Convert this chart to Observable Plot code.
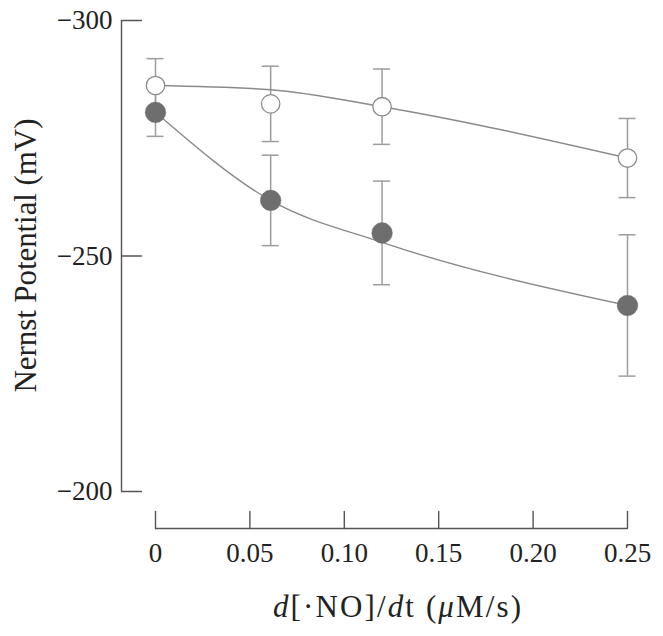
<!DOCTYPE html>
<html><head><meta charset="utf-8">
<script src="https://cdn.jsdelivr.net/npm/d3@7"></script>
<script src="https://cdn.jsdelivr.net/npm/@observablehq/plot@0.6"></script>
<style>body{margin:0;background:#fff;} svg{display:block}</style>
</head><body><div id="chart"></div>
<script>
// ---- data ----
const rates = [0, 0.061, 0.12, 0.25];                 // d[·NO]/dt (µM/s)
const openMean = [-286.2, -282.3, -281.7, -270.8];    // open circles (mV)
const openErr = [5.7, 8.0, 8.0, 8.4];
const openFit = [-286.2, -285.3, -281.7, -270.8];     // fitted curve through open series
const filledMean = [-280.5, -261.8, -254.9, -239.5];  // filled circles (mV)
const filledErr = [5.1, 9.6, 11.0, 15.0];
const filledFit = [-280.5, -261.8, -252.9, -239.5];   // fitted curve through filled series
const xTicks = [0, 0.05, 0.10, 0.15, 0.20, 0.25];
const xTickLabels = ["0", "0.05", "0.10", "0.15", "0.20", "0.25"];
const yTicks = [-300, -250, -200];
const yTickLabels = ["\u2212300", "\u2212250", "\u2212200"];
const yTitle = "Nernst Potential (mV)";

// ---- build table ----
const rows = [];
rates.forEach((x, i) => {
  rows.push({series: "open", x, mean: openMean[i], err: openErr[i], fit: openFit[i]});
  rows.push({series: "filled", x, mean: filledMean[i], err: filledErr[i], fit: filledFit[i]});
});
const openRows = rows.filter(d => d.series === "open");
const filledRows = rows.filter(d => d.series === "filled");

const axisColor = "#555";
const barColor = "#9c9c9c";
const lineColor = "#8a8a8a";
const fontFam = "'Liberation Serif', 'DejaVu Serif', serif";
const tickShape = {draw(context, l) { context.moveTo(0, 0); context.lineTo(0, -l); }};
const xAxisDrop = 37;

const chart = Plot.plot({
  width: 663,
  height: 636,
  marginTop: 20,
  marginBottom: 145,
  marginLeft: 121,
  marginRight: 36,
  style: {fontFamily: fontFam, fontSize: "27px", color: "#222", background: "#fff"},
  x: {domain: [xTicks[0], xTicks[xTicks.length - 1]], insetLeft: 34},
  y: {domain: [yTicks[0], yTicks[yTicks.length - 1]], reverse: true},
  marks: [
    // y axis line, ticks, labels
    Plot.ruleX([xTicks[0]], {y1: yTicks[0], y2: yTicks[yTicks.length - 1], dx: -34, stroke: axisColor, strokeWidth: 1.4}),
    Plot.vector(yTicks, {y: d => d, frameAnchor: "left", length: 20, rotate: 90, anchor: "start", shape: tickShape, stroke: axisColor, strokeWidth: 1.4}),
    Plot.axisY({ticks: yTicks, tickFormat: d => yTickLabels[yTicks.indexOf(d)], tickSize: 0, tickPadding: 9, label: null, fill: "#222"}),
    // x axis line, ticks, labels (offset below the plot)
    Plot.ruleY([yTicks[yTicks.length - 1]], {x1: xTicks[0], x2: xTicks[xTicks.length - 1], dy: xAxisDrop, stroke: axisColor, strokeWidth: 1.4}),
    Plot.vector(xTicks, {x: d => d, frameAnchor: "bottom", length: 17, rotate: 0, anchor: "start", shape: tickShape, dy: xAxisDrop, stroke: axisColor, strokeWidth: 1.4}),
    Plot.axisX({ticks: xTicks, tickFormat: d => xTickLabels[xTicks.indexOf(d)], tickSize: 0, tickPadding: 14, dy: xAxisDrop, label: null, fill: "#222"}),
    // error bars
    Plot.ruleX(rows, {x: "x", y1: d => d.mean - d.err, y2: d => d.mean + d.err, stroke: barColor, strokeWidth: 1.5}),
    Plot.ruleY(rows, {y: d => d.mean - d.err, x1: "x", x2: "x", insetLeft: -8.5, insetRight: -8.5, stroke: barColor, strokeWidth: 1.5}),
    Plot.ruleY(rows, {y: d => d.mean + d.err, x1: "x", x2: "x", insetLeft: -8.5, insetRight: -8.5, stroke: barColor, strokeWidth: 1.5}),
    // fitted curves
    Plot.line(rows, {x: "x", y: "fit", z: "series", curve: "monotone-x", stroke: lineColor, strokeWidth: 1.4}),
    // points
    Plot.dot(filledRows, {x: "x", y: "mean", r: 10.3, fill: "#6e6e6e", stroke: "#6e6e6e", strokeWidth: 0.5}),
    Plot.dot(openRows, {x: "x", y: "mean", r: 9.2, fill: "#fff", stroke: "#8c8c8c", strokeWidth: 1.3})
  ]
});
document.getElementById("chart").appendChild(chart);

// axis titles
const svg = d3.select(chart);
const xs = chart.scale("x"), ys = chart.scale("y");
const xMid = (xs.apply(xTicks[0]) + xs.apply(xTicks[xTicks.length - 1])) / 2 + 6;
const yMid = (ys.apply(yTicks[0]) + ys.apply(yTicks[yTicks.length - 1])) / 2;

svg.append("text")
  .attr("transform", `translate(${121 - 96},${yMid}) rotate(-90)`)
  .attr("text-anchor", "middle").attr("dy", "0.35em")
  .attr("font-family", fontFam).attr("font-size", 31).attr("fill", "#222")
  .attr("textLength", 274).attr("lengthAdjust", "spacing")
  .text(yTitle);

const xt = svg.append("text")
  .attr("x", xMid).attr("y", 617)
  .attr("text-anchor", "middle")
  .attr("font-family", fontFam).attr("font-size", 31).attr("fill", "#222")
  .attr("textLength", 248).attr("lengthAdjust", "spacing");
[["d", true], ["[\u00B7NO]/", false], ["d", true], ["t (", false], ["\u03BC", true], ["M/s)", false]]
  .forEach(([s, it]) => xt.append("tspan").attr("font-style", it ? "italic" : "normal").text(s));
</script>
</body></html>
